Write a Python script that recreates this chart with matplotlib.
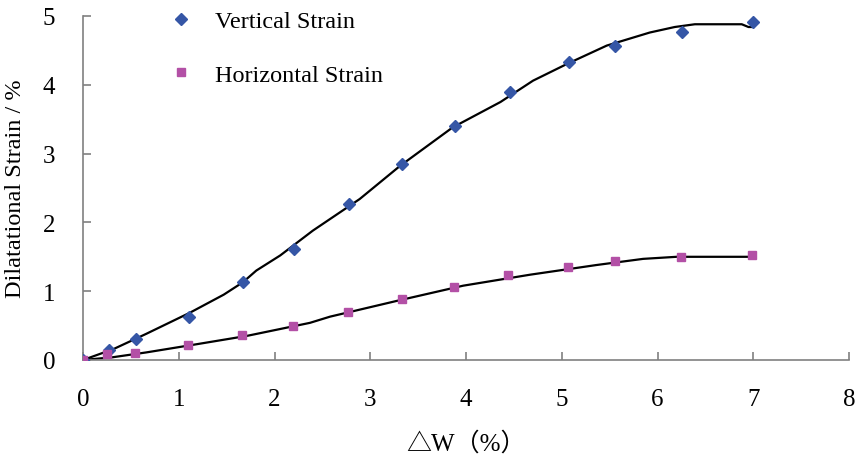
import matplotlib
matplotlib.use("Agg")
import matplotlib.pyplot as plt
from matplotlib.lines import Line2D

# Measured points
dw_vertical = [0.0, 0.27, 0.55, 1.11, 1.67, 2.20, 2.78, 3.33, 3.88, 4.46, 5.08, 5.56, 6.26, 7.00]
vertical_strain = [0.0, 0.14, 0.30, 0.63, 1.13, 1.61, 2.27, 2.85, 3.40, 3.90, 4.33, 4.56, 4.77, 4.91]

dw_horizontal = [0.0, 0.25, 0.54, 1.10, 1.66, 2.19, 2.77, 3.33, 3.87, 4.44, 5.07, 5.56, 6.25, 6.99]
horizontal_strain = [0.0, 0.08, 0.10, 0.22, 0.36, 0.50, 0.70, 0.88, 1.06, 1.23, 1.35, 1.44, 1.50, 1.52]

# Fitted curves
fit_v_x = [0.0, 0.32, 0.66, 1.12, 1.47, 1.67, 1.81, 2.06, 2.40, 2.89, 3.31, 3.86, 4.36, 4.70, 5.05, 5.47, 5.92, 6.18, 6.39, 6.88, 6.95, 7.00]
fit_v_y = [0.0, 0.16, 0.38, 0.69, 0.95, 1.13, 1.30, 1.52, 1.88, 2.34, 2.82, 3.38, 3.75, 4.06, 4.30, 4.57, 4.76, 4.84, 4.88, 4.88, 4.84, 4.84]

fit_h_x = [0.0, 0.31, 0.66, 1.19, 1.71, 2.37, 2.58, 3.28, 3.97, 4.67, 5.36, 5.85, 6.20, 7.00]
fit_h_y = [0.0, 0.04, 0.11, 0.23, 0.35, 0.54, 0.63, 0.86, 1.08, 1.24, 1.38, 1.47, 1.50, 1.50]

x_ticks = [0, 1, 2, 3, 4, 5, 6, 7, 8]
y_ticks = [0, 1, 2, 3, 4, 5]

serif = ['Liberation Serif', 'Noto Sans CJK SC', 'DejaVu Sans']
plt.rcParams['font.family'] = serif

blue = '#3556A6'
pink = '#B350A6'
spine_c = '#808080'
fs = 18

fig = plt.figure(figsize=(8.55, 4.56), dpi=100)
ax = fig.add_axes([83/855, 1-361/456, (849-83)/855, (361-17)/456])

ax.plot(fit_v_x, fit_v_y, color='black', lw=1.6, zorder=2)
ax.plot(fit_h_x, fit_h_y, color='black', lw=1.6, zorder=2)
ax.plot(dw_vertical, vertical_strain, linestyle='none', marker='D', ms=6.5,
        color=blue, mec=blue, zorder=3)
ax.plot(dw_horizontal, horizontal_strain, linestyle='none', marker='s', ms=5.8,
        color=pink, mec=pink, zorder=3)

ax.set_xlim(0, 8)
ax.set_ylim(0, 5)
ax.set_xticks(x_ticks)
ax.set_yticks(y_ticks)
ax.set_xticklabels([str(v) for v in x_ticks])
ax.set_yticklabels([str(v) for v in y_ticks])

for s in ['top', 'right']:
    ax.spines[s].set_visible(False)
for s in ['left', 'bottom']:
    ax.spines[s].set_color(spine_c)
    ax.spines[s].set_linewidth(1.2)

ax.tick_params(axis='both', direction='in', length=6, width=1.2, color=spine_c,
               labelsize=fs)
ax.tick_params(axis='x', pad=20)
ax.tick_params(axis='y', pad=20)

ax.set_xlabel('△W（%）', fontsize=fs, family=serif, labelpad=15)
ax.set_ylabel('Dilatational Strain / %', fontsize=17.5, labelpad=12)

handles = [Line2D([], [], linestyle='none', marker='D', ms=6, color=blue),
           Line2D([], [], linestyle='none', marker='s', ms=5.5, color=pink)]
fig.legend(handles, ['Vertical Strain', 'Horizontal Strain'],
           loc='upper left', bbox_to_anchor=(169/855, 1-11/456),
           frameon=False, fontsize=17.5, borderpad=0, borderaxespad=0,
           handlelength=1.0, handletextpad=0.9, labelspacing=1.3)

fig.savefig('out.png', dpi=100)
